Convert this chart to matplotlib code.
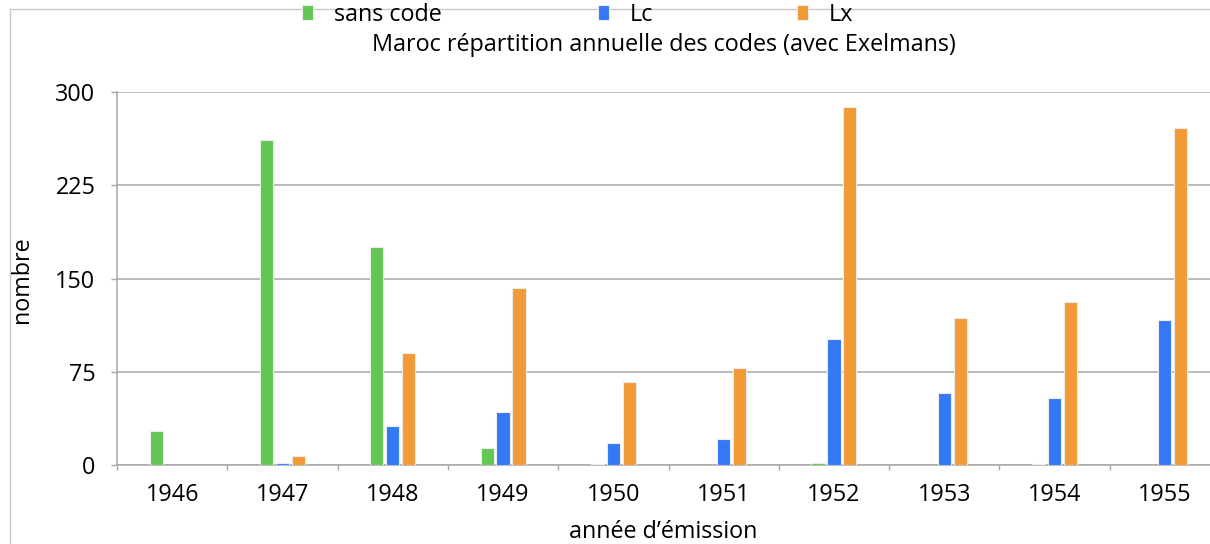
import matplotlib
matplotlib.use("Agg")
import matplotlib.pyplot as plt
import numpy as np
from matplotlib.lines import Line2D
from matplotlib.ticker import FixedLocator

plt.rcParams['font.family'] = ['Open Sans', 'DejaVu Sans']

# Data: number of stamps per year by code type
years = ['1946', '1947', '1948', '1949', '1950', '1951', '1952', '1953', '1954', '1955']
sans_code = [27, 261, 175, 14, 1, 0, 2, 0, 1, 0]
lc = [0, 2, 31, 43, 18, 21, 101, 58, 54, 117]
lx = [0, 7, 90, 142, 67, 78, 288, 118, 131, 271]
series_names = ['sans code', 'Lc', 'Lx']
yticks = [0, 75, 150, 225, 300]

colors = ['#63c655', '#3478f6', '#f29a38']
FS = 16.8
W, H = 1210, 544
fig = plt.figure(figsize=(W / 100, H / 100), dpi=100)

# plot area (extends a little past the right edge)
ax = fig.add_axes([117 / W, 79 / H, 1103 / W, 373 / H])

x = np.arange(len(years))
pitch = 0.144
bw = 0.12
handles = []
for i, (vals, col) in enumerate(zip([sans_code, lc, lx], colors)):
    b = ax.bar(x + (i - 1) * pitch, vals, width=bw, color=col,
               edgecolor='#ececec', linewidth=0.8, zorder=3,
               label=series_names[i])
    handles.append(b)

ax.set_xlim(-0.5, len(years) - 0.5)
ax.set_ylim(0, 300)

grid_col = '#a8a8a8'
ax.set_yticks(yticks)
ax.set_yticklabels([str(v) for v in yticks])
ax.yaxis.grid(True, color=grid_col, linewidth=1.1, zorder=0)
ax.set_axisbelow(True)

ax.set_xticks(x)
ax.set_xticklabels(years)
ax.xaxis.set_minor_locator(FixedLocator(np.arange(-0.5, len(years), 1.0)))
ax.tick_params(axis='x', which='major', length=0, pad=13, labelsize=FS)
ax.tick_params(axis='x', which='minor', length=3.5, width=1, color=grid_col)
ax.tick_params(axis='y', length=4, width=1, color=grid_col, pad=11.5,
               labelsize=FS)

for side in ('top', 'right'):
    ax.spines[side].set_visible(False)
for side in ('left', 'bottom'):
    ax.spines[side].set_color(grid_col)
    ax.spines[side].set_linewidth(1.1)

# outer frame of the chart
fig.add_artist(Line2D([10 / W, 10 / W], [0, 1 - 9 / H], color='#c8c8c8',
                      linewidth=1.0, transform=fig.transFigure))
fig.add_artist(Line2D([10 / W, 1], [1 - 9 / H, 1 - 9 / H], color='#c8c8c8',
                      linewidth=1.0, transform=fig.transFigure))

# one legend entry per series, spread across the top
for h, x0 in zip(handles, [302, 598, 797]):
    fig.legend(handles=[h], loc='center left',
               bbox_to_anchor=(x0 / W, 1 - 15 / H), frameon=False,
               fontsize=FS, handlelength=0.46, handleheight=0.6,
               handletextpad=0.9, borderpad=0, borderaxespad=0)

fig.text(664 / W, 1 - 45 / H,
         'Maroc répartition annuelle des codes (avec Exelmans)',
         ha='center', va='center', fontsize=FS)
fig.text(22 / W, 1 - 280 / H, 'nombre', rotation=90,
         ha='center', va='center', fontsize=FS)
fig.text(663 / W, 1 - 532 / H, 'année d’émission',
         ha='center', va='center', fontsize=FS)

fig.savefig('out.png', dpi=100)
